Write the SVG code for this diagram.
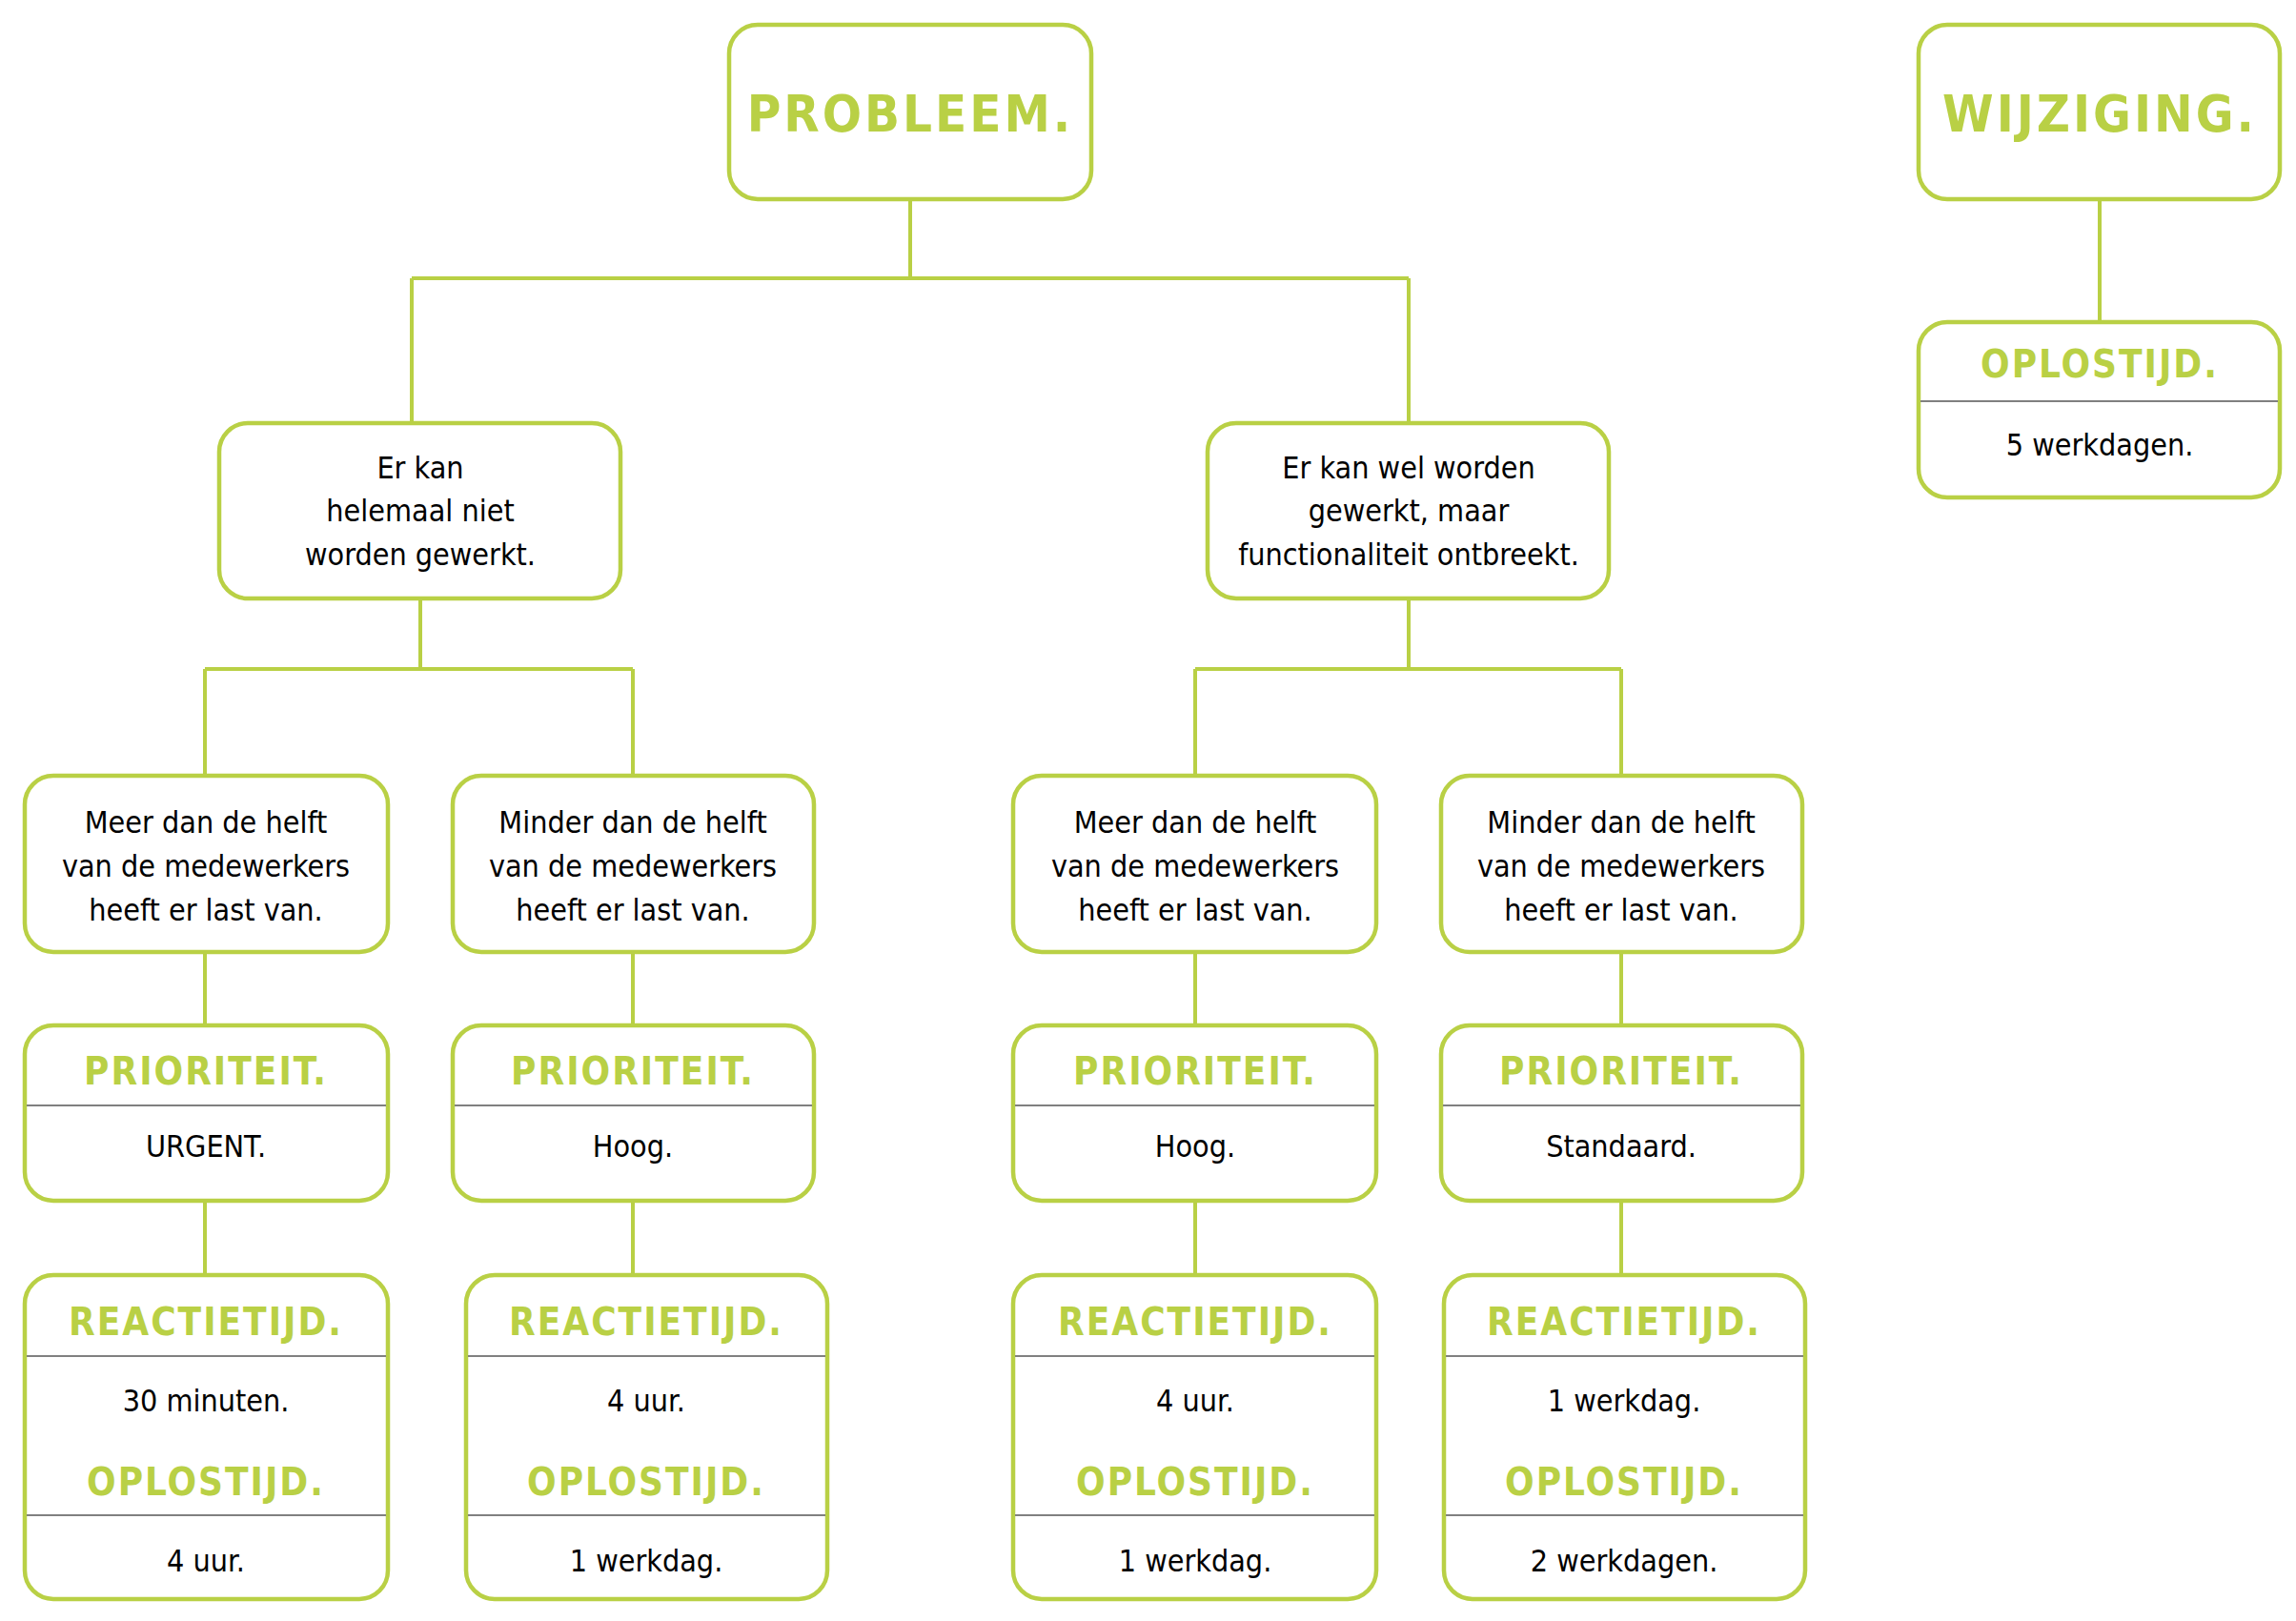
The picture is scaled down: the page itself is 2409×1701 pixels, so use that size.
<svg xmlns="http://www.w3.org/2000/svg" width="2409" height="1701" viewBox="0 0 2409 1701">
<style>
.b{fill:#fff;stroke:#b9d045;stroke-width:4.5}
.d{stroke:#808080;stroke-width:2}
.c{fill:none;stroke:#b9d045;stroke-width:4}
.t{font-family:"DejaVu Sans Condensed","Liberation Sans",sans-serif;font-weight:bold;fill:#b9d045;text-anchor:middle;font-size:40px;letter-spacing:2px}
.big{font-size:54px;letter-spacing:3px}
.v{font-family:"DejaVu Sans Condensed","Liberation Sans",sans-serif;fill:#000;text-anchor:middle;font-size:32px}
</style>
<rect width="2409" height="1701" fill="#fff"/>
<g id="connectors" class="c">
<path d="M955 209V292M432 292H1478M432 292V444M1478 292V444"/>
<path d="M441 628V702M215 702H664M215 702V814M664 702V814"/>
<path d="M1478 628V702M1254 702H1701M1254 702V814M1701 702V814"/>
<path d="M215 999V1076M664 999V1076M1254 999V1076M1701 999V1076"/>
<path d="M215 1260V1338M664 1260V1338M1254 1260V1338M1701 1260V1338"/>
<path d="M2203 209V338"/>
</g>
<g id="probleem"><rect class="b" x="765" y="26" width="380" height="183" rx="30"/><text class="t big" x="955" y="138">PROBLEEM.</text></g>
<g id="wijziging"><rect class="b" x="2013" y="26" width="379" height="183" rx="30"/><text class="t big" x="2203" y="138">WIJZIGING.</text></g>
<g id="w-oplos"><rect class="b" x="2013" y="338" width="379" height="184" rx="30"/><line class="d" x1="2015" y1="421" x2="2390" y2="421"/><text class="t" x="2203" y="396">OPLOSTIJD.</text><text class="v" x="2203" y="478">5 werkdagen.</text></g>
<g id="l1"><rect class="b" x="230" y="444" width="421" height="184" rx="30"/><text class="v" x="441" y="502">Er kan</text><text class="v" x="441" y="547">helemaal niet</text><text class="v" x="441" y="593">worden gewerkt.</text></g>
<g id="r1"><rect class="b" x="1267" y="444" width="421" height="184" rx="30"/><text class="v" x="1478" y="502">Er kan wel worden</text><text class="v" x="1478" y="547">gewerkt, maar</text><text class="v" x="1478" y="593">functionaliteit ontbreekt.</text></g>
<g id="a1"><rect class="b" x="26" y="814" width="381" height="185" rx="30"/><text class="v" x="216" y="874">Meer dan de helft</text><text class="v" x="216" y="920">van de medewerkers</text><text class="v" x="216" y="966">heeft er last van.</text></g>
<g id="a2"><rect class="b" x="475" y="814" width="379" height="185" rx="30"/><text class="v" x="664" y="874">Minder dan de helft</text><text class="v" x="664" y="920">van de medewerkers</text><text class="v" x="664" y="966">heeft er last van.</text></g>
<g id="a3"><rect class="b" x="1063" y="814" width="381" height="185" rx="30"/><text class="v" x="1254" y="874">Meer dan de helft</text><text class="v" x="1254" y="920">van de medewerkers</text><text class="v" x="1254" y="966">heeft er last van.</text></g>
<g id="a4"><rect class="b" x="1512" y="814" width="379" height="185" rx="30"/><text class="v" x="1701" y="874">Minder dan de helft</text><text class="v" x="1701" y="920">van de medewerkers</text><text class="v" x="1701" y="966">heeft er last van.</text></g>
<g id="p1"><rect class="b" x="26" y="1076" width="381" height="184" rx="30"/><line class="d" x1="28" y1="1160" x2="405" y2="1160"/><text class="t" x="216" y="1138">PRIORITEIT.</text><text class="v" x="216" y="1214">URGENT.</text></g>
<g id="p2"><rect class="b" x="475" y="1076" width="379" height="184" rx="30"/><line class="d" x1="477" y1="1160" x2="852" y2="1160"/><text class="t" x="664" y="1138">PRIORITEIT.</text><text class="v" x="664" y="1214">Hoog.</text></g>
<g id="p3"><rect class="b" x="1063" y="1076" width="381" height="184" rx="30"/><line class="d" x1="1065" y1="1160" x2="1442" y2="1160"/><text class="t" x="1254" y="1138">PRIORITEIT.</text><text class="v" x="1254" y="1214">Hoog.</text></g>
<g id="p4"><rect class="b" x="1512" y="1076" width="379" height="184" rx="30"/><line class="d" x1="1514" y1="1160" x2="1889" y2="1160"/><text class="t" x="1701" y="1138">PRIORITEIT.</text><text class="v" x="1701" y="1214">Standaard.</text></g>
<g id="r-1"><rect class="b" x="26" y="1338" width="381" height="340" rx="30"/><line class="d" x1="28" y1="1423" x2="405" y2="1423"/><line class="d" x1="28" y1="1590" x2="405" y2="1590"/><text class="t" x="216" y="1401">REACTIETIJD.</text><text class="v" x="216" y="1481">30 minuten.</text><text class="t" x="216" y="1569">OPLOSTIJD.</text><text class="v" x="216" y="1649">4 uur.</text></g>
<g id="r-2"><rect class="b" x="489" y="1338" width="379" height="340" rx="30"/><line class="d" x1="491" y1="1423" x2="866" y2="1423"/><line class="d" x1="491" y1="1590" x2="866" y2="1590"/><text class="t" x="678" y="1401">REACTIETIJD.</text><text class="v" x="678" y="1481">4 uur.</text><text class="t" x="678" y="1569">OPLOSTIJD.</text><text class="v" x="678" y="1649">1 werkdag.</text></g>
<g id="r-3"><rect class="b" x="1063" y="1338" width="381" height="340" rx="30"/><line class="d" x1="1065" y1="1423" x2="1442" y2="1423"/><line class="d" x1="1065" y1="1590" x2="1442" y2="1590"/><text class="t" x="1254" y="1401">REACTIETIJD.</text><text class="v" x="1254" y="1481">4 uur.</text><text class="t" x="1254" y="1569">OPLOSTIJD.</text><text class="v" x="1254" y="1649">1 werkdag.</text></g>
<g id="r-4"><rect class="b" x="1515" y="1338" width="379" height="340" rx="30"/><line class="d" x1="1517" y1="1423" x2="1892" y2="1423"/><line class="d" x1="1517" y1="1590" x2="1892" y2="1590"/><text class="t" x="1704" y="1401">REACTIETIJD.</text><text class="v" x="1704" y="1481">1 werkdag.</text><text class="t" x="1704" y="1569">OPLOSTIJD.</text><text class="v" x="1704" y="1649">2 werkdagen.</text></g>
</svg>
